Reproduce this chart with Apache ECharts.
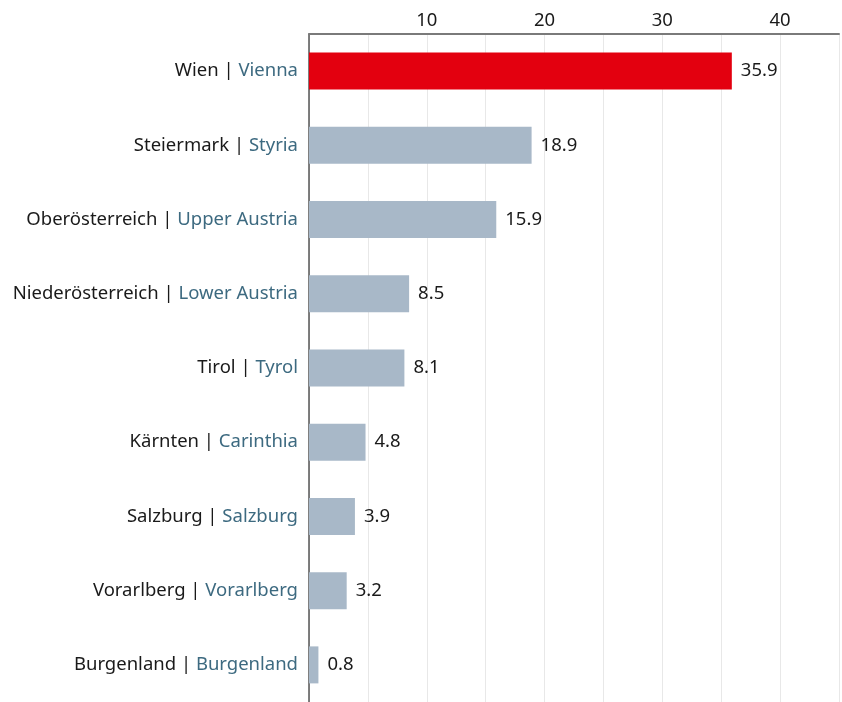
<!DOCTYPE html>
<html>
<head>
<meta charset="utf-8">
<script src="https://cdn.jsdelivr.net/npm/echarts@6/dist/echarts.min.js"></script>
<style>
  html, body { margin: 0; padding: 0; background: #fff; }
  #chart { width: 842px; height: 702px; }
</style>
</head>
<body>
<div id="chart"></div>
<script>
// Bundesländer, German | English
const regionsDe = ['Wien', 'Steiermark', 'Oberösterreich', 'Niederösterreich', 'Tirol', 'Kärnten', 'Salzburg', 'Vorarlberg', 'Burgenland']
const regionsEn = ['Vienna', 'Styria', 'Upper Austria', 'Lower Austria', 'Tyrol', 'Carinthia', 'Salzburg', 'Vorarlberg', 'Burgenland']
const values = [35.9, 18.9, 15.9, 8.5, 8.1, 4.8, 3.9, 3.2, 0.8]
const highlight = 'Wien'

const chart = echarts.init(document.getElementById('chart'))
const font = 'Noto Sans'
const fs = 18.5

const option = {
  animation: false,
  grid: { left: 309, right: 0, top: 34, bottom: -5, containLabel: false },
  xAxis: {
    type: 'value',
    position: 'top',
    min: 0,
    max: 45,
    interval: 5,
    axisLine: { show: true, lineStyle: { color: '#7a7a7a', width: 2 } },
    axisTick: { show: false },
    axisLabel: {
      color: '#1a1a1a',
      fontFamily: font,
      fontSize: fs,
      margin: 4,
      formatter: v => (v > 0 && v % 10 === 0) ? String(v) : ''
    },
    splitLine: { show: true, lineStyle: { color: '#e8e8e8', width: 1 } }
  },
  yAxis: {
    type: 'category',
    inverse: true,
    data: regionsDe.map((d, i) => d + '|' + regionsEn[i]),
    axisLine: { show: true, lineStyle: { color: '#555', width: 1.5 } },
    axisTick: { show: false },
    axisLabel: {
      margin: 11,
      fontFamily: font,
      fontSize: fs,
      formatter: v => {
        const [de, en] = v.split('|')
        return '{de|' + de + ' | }{en|' + en + '}'
      },
      rich: {
        de: { color: '#1a1a1a', fontFamily: font, fontSize: fs },
        en: { color: '#3d6a80', fontFamily: font, fontSize: fs }
      }
    }
  },
  series: [{
    type: 'bar',
    barWidth: 37,
    data: values.map((v, i) => ({
      value: v,
      itemStyle: { color: regionsDe[i] === highlight ? '#e3000f' : '#a8b8c8' }
    })),
    label: {
      show: true,
      position: 'right',
      distance: 9,
      color: '#1a1a1a',
      fontFamily: font,
      fontSize: fs
    }
  }]
}

chart.setOption(option)
</script>
</body>
</html>
